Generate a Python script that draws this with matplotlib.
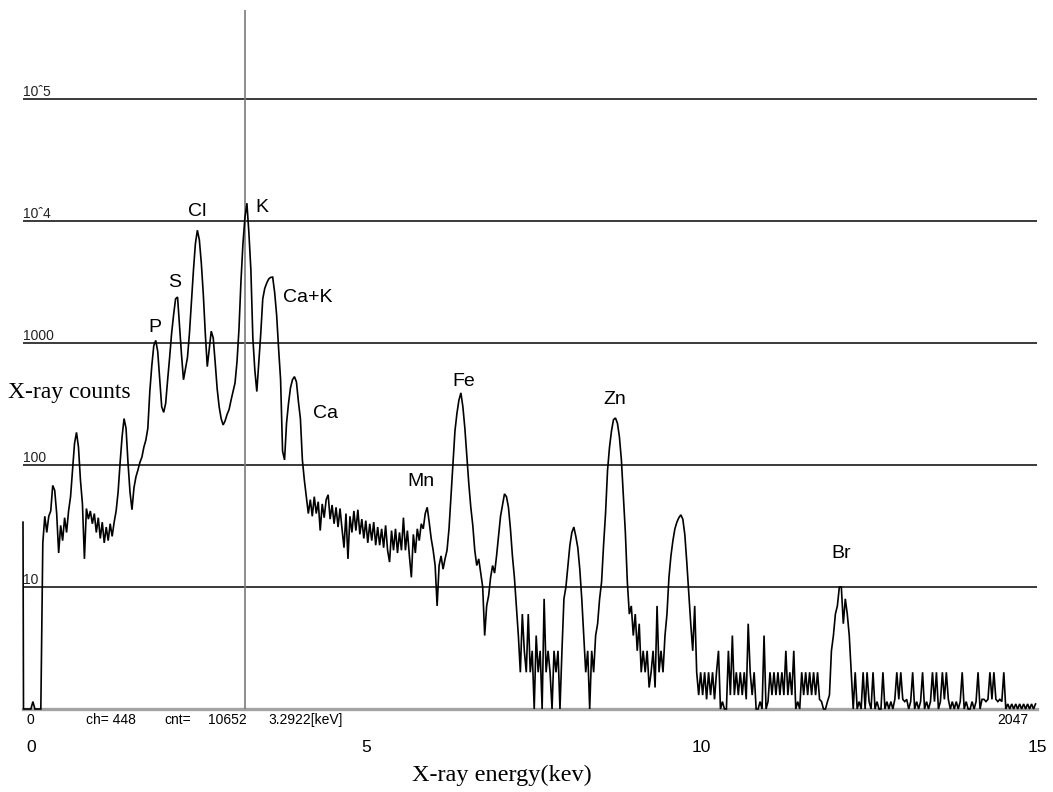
import numpy as np
import matplotlib
matplotlib.use("Agg")
import matplotlib.pyplot as plt
import matplotlib.transforms as mtransforms

# ---------------- data ----------------
# spectrum: channel number -> counts
first_channels = [0, 1]
first_counts = [34, 0]
step_counts = [
    0, 0, 0, 0, 1.15, 0, 0, 0, 0,
    23, 38, 28, 38, 42, 68, 62, 40, 19, 32,
    24, 37, 28, 42, 55, 90, 150, 185, 140, 75,
    48, 17, 44, 36, 42, 33, 40, 28, 37, 25,
    34, 23, 31, 24, 33, 26, 34, 42, 60, 104,
    170, 240, 200, 104, 60, 43, 65, 80, 91, 105,
    116, 140, 160, 200, 400, 650, 950, 1050, 850, 500,
    300, 270, 320, 500, 760, 1200, 1700, 2300, 2380, 1400,
    800, 500, 620, 760, 1200, 2200, 3900, 6500, 8400, 7000,
    4500, 2500, 1200, 640, 900, 1250, 1100, 690, 420, 300,
    240, 213, 230, 260, 285, 340, 400, 470, 700, 1300,
    3200, 6500, 10652, 14000, 8000, 4000, 1100, 600, 400, 700,
    1200, 2300, 2800, 3100, 3350, 3450, 3470, 2600, 1700, 900,
    500, 130, 110, 220, 320, 430, 500, 530, 480, 330,
    240, 110, 75, 55, 40, 52, 38, 55, 40, 50,
    29, 48, 37, 52, 57, 36, 47, 33, 45, 31,
    44, 30, 21, 40, 17, 38, 28, 42, 29, 43,
    27, 36, 25, 35, 23, 33, 24, 34, 22, 31,
    22, 30, 21, 32, 20, 16, 29, 20, 30, 19,
    28, 20, 37, 20, 29, 18, 12, 27, 19, 30,
    24, 33, 30, 40, 45, 34, 25, 20, 15, 7,
    15, 18, 14, 17, 20, 30, 55, 104, 190, 265,
    340, 390, 300, 200, 120, 70, 45, 32, 20, 15,
    17, 13, 10, 4, 7, 8.5, 12, 15, 13, 18,
    26, 38, 47, 58, 55, 45, 30, 18, 12, 7,
    4, 2, 6, 3, 2, 6, 2, 3, 0, 4,
    2, 3, 0, 8, 2, 3, 2, 0, 3, 2,
    3, 0, 3, 8, 10, 15, 22, 28, 31, 26,
    21, 14, 8, 4, 2, 3, 0, 3, 2, 4,
    5, 8, 11, 22, 40, 90, 140, 190, 235, 243,
    220, 170, 110, 55, 28, 11, 6, 7, 4, 6,
    3, 5, 2, 3, 2, 3, 1.5, 2, 3, 1.5,
    7, 2, 3, 2, 4, 6, 12, 18, 24, 30,
    34, 37, 39, 36, 27, 16, 9, 5, 3, 7,
    2, 1.3, 2, 1.3, 2, 1.2, 2, 1.3, 2, 1.2,
    2, 3, 1, 1.15, 1, 1, 3, 1.3, 4, 1.3,
    2, 1.3, 2, 1.3, 2, 1.2, 5, 2, 1.3, 2,
    1, 1, 1.15, 1, 4, 1, 1.15, 2, 1.3, 2,
    1.3, 2, 1.3, 2, 1.3, 3, 1.3, 2, 1.3, 3,
    1, 1.15, 1, 2, 1.3, 2, 1.3, 2, 1.3, 2,
    1.3, 2, 1.2, 1.15, 1, 1, 1.15, 1.3, 3, 4,
    6, 7, 10, 10, 5, 8, 6, 4, 2, 1,
    2, 1, 1.15, 0, 2, 1, 2, 1.15, 1, 2,
    1, 1.15, 0, 1, 2, 1, 1.15, 1, 1.15, 1,
    1.2, 2, 1.2, 2, 1.2, 1.15, 1.2, 1, 1.15, 2,
    1, 1.15, 1, 1.15, 2, 1, 1.15, 1, 1.15, 2,
    1.15, 2, 1, 1.15, 2, 1.2, 2, 1.2, 1, 1.15,
    1, 1.15, 1, 1.15, 2, 1, 1.15, 1, 1, 1.15,
    1, 1.15, 2, 1, 1.2, 1.2, 1.15, 1.2, 2, 1.2,
    2, 1.2, 1.15, 1.2, 1.15, 2, 1, 1.1, 1, 1.1,
    1, 1.1, 1, 1.1, 1, 1.1, 1, 1.1, 1, 1.1, 1, 1.1,
]
step_channels = list(range(4, 4 * (len(step_counts) + 1), 4))
channels = np.array(first_channels + step_channels)
counts = np.array(first_counts + step_counts, dtype=float)

grid_values = [10, 100, 1000, 1e4, 1e5]
grid_labels = ["10", "100", "1000", "10\u02c64", "10\u02c65"]
cursor_channel = 448
cursor_count = 10652
cursor_kev = "3.2922"
max_channel = 2047
kev_ticks = [0, 5, 10, 15]

peak_names = ["P", "S", "Cl", "K", "Ca+K", "Ca", "Mn", "Fe", "Zn", "Br"]

# ---------------- layout ----------------
W, H = 1053, 792
fig = plt.figure(figsize=(W / 100, H / 100), dpi=100)
fig.patch.set_facecolor("white")

def fx(x):
    return x / W

def fy(y):
    return 1 - y / H

x_left, x_right, y_base, y_top = 23, 1037, 709, 10
ax = fig.add_axes([fx(x_left), fy(y_base), (x_right - x_left) / W, (y_base - y_top) / H])
ax.set_yscale("log")
ax.set_xlim(0, max_channel)
ax.set_ylim(1, 10 ** ((y_base - y_top) / 122))
ax.axis("off")

for v in grid_values:
    ax.axhline(v, color="#3a3a3a", lw=1.4, zorder=1)
ax.axhline(1, color="#a3a3a3", lw=2.4, zorder=1, clip_on=False)
ax.axvline(cursor_channel, color="#7a7a7a", lw=1.2, zorder=2)
ax.plot(channels, np.maximum(counts, 1), color="black", lw=1.2, zorder=3,
        clip_on=False, solid_joinstyle="miter")

sans = "Liberation Sans"
serif = "Liberation Serif"

# grid value labels (baseline a few pixels above each grid line)
for v, lab in zip(grid_values, grid_labels):
    ax.text(0, v * 10 ** (3 / 122), lab, transform=ax.get_yaxis_transform(),
            ha="left", va="baseline", fontsize=10, family=sans, color="#222222")

# peak labels (pixel positions)
peak_pos = [(155, 327), (175, 283), (197, 211), (262, 208), (308, 297),
            (326, 414), (421, 481), (464, 381), (615, 400), (841, 554)]
for name, (px_, py_) in zip(peak_names, peak_pos):
    fig.text(fx(px_), fy(py_), name, ha="center", va="center",
             fontsize=14, family=sans, color="black")

# cursor info row
row_y = fy(720)
fig.text(fx(30), row_y, "0", ha="center", va="center", fontsize=10, family=sans)
fig.text(fx(86), row_y, f"ch= {cursor_channel}", ha="left", va="center", fontsize=10, family=sans)
fig.text(fx(164), row_y, "cnt=", ha="left", va="center", fontsize=10, family=sans)
fig.text(fx(208), row_y, f"{cursor_count}", ha="left", va="center", fontsize=10, family=sans)
fig.text(fx(268), row_y, f"{cursor_kev}[keV]", ha="left", va="center", fontsize=10, family=sans)
fig.text(fx(1028), row_y, f"{max_channel}", ha="right", va="center", fontsize=10, family=sans)

# keV tick row
ax2 = fig.add_axes([fx(31), 0, (1037 - 31) / W, 0.05])
ax2.set_xlim(0, 15)
ax2.set_ylim(0, 1)
ax2.axis("off")
tick_tr = mtransforms.blended_transform_factory(ax2.transData, fig.transFigure)
for t in kev_ticks:
    ax2.text(t, fy(748), str(t), transform=tick_tr, ha="center",
             va="center", fontsize=12.5, family=sans)

fig.text(fx(69), fy(392), "X-ray counts", ha="center", va="center", fontsize=17, family=serif)
fig.text(fx(502), fy(775), "X-ray energy(kev)", ha="center", va="center", fontsize=17.5, family=serif)

fig.savefig("out.png", dpi=100, facecolor="white")
